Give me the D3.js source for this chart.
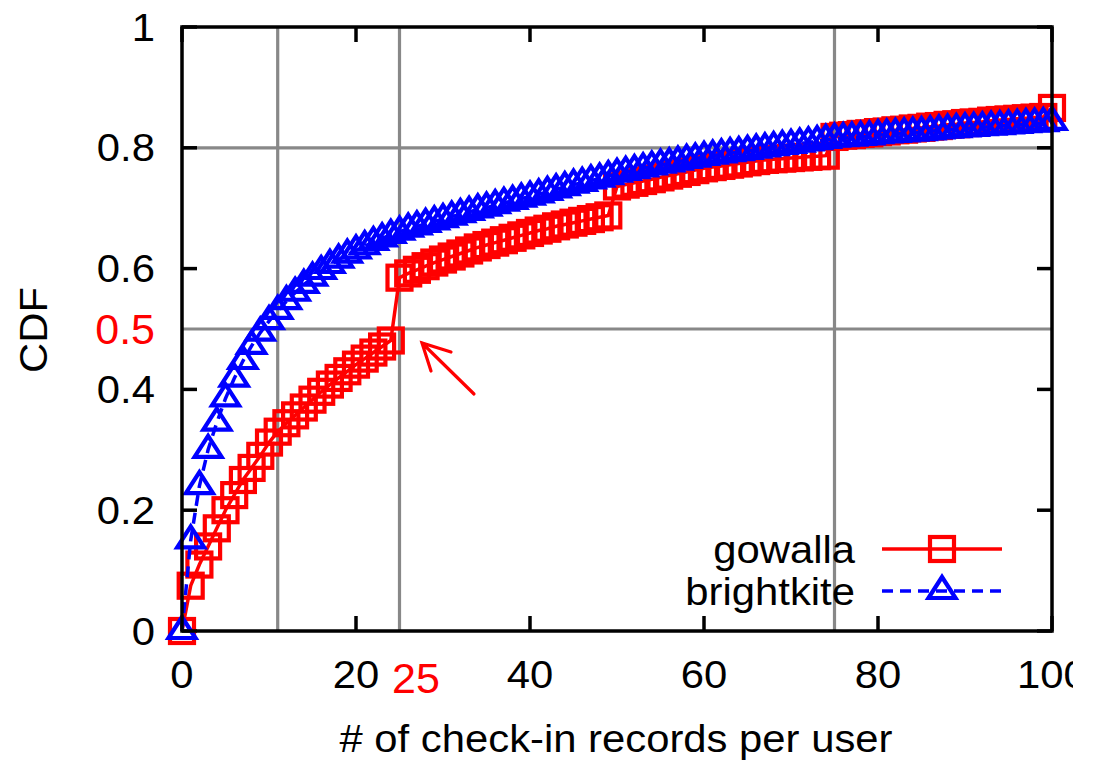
<!DOCTYPE html>
<html>
<head>
<meta charset="utf-8">
<script src="https://cdn.jsdelivr.net/npm/d3@7"></script>
<style>
  body { margin: 0; background: #fff; }
  svg { display: block; overflow: hidden; }
  text { font-family: "Liberation Sans", Arial, sans-serif; }
</style>
</head>
<body>
<div id="chart"></div>
<script>
// x = number of check-in records per user, one point per integer
var recordCounts = d3.range(0, 101);

// gowalla CDF (jumps at 25, 50, 75, 100)
var gowallaCdf = [
  0, 0.075, 0.11, 0.14, 0.17, 0.2, 0.225, 0.25, 0.27, 0.29,
  0.312, 0.33, 0.344, 0.357, 0.37, 0.383, 0.396, 0.408, 0.419, 0.43,
  0.441, 0.451, 0.461, 0.471, 0.481,
  0.585, 0.592, 0.598, 0.604, 0.61, 0.615, 0.62, 0.625, 0.63, 0.635,
  0.639, 0.643, 0.647, 0.651, 0.655, 0.659, 0.663, 0.666, 0.67, 0.673,
  0.676, 0.679, 0.682, 0.685, 0.688,
  0.736, 0.739, 0.742, 0.745, 0.748, 0.751, 0.754, 0.757, 0.76, 0.763,
  0.766, 0.768, 0.77, 0.772, 0.774, 0.776, 0.778, 0.78, 0.781, 0.782,
  0.783, 0.784, 0.785, 0.786, 0.787,
  0.818, 0.82, 0.821, 0.823, 0.824, 0.826, 0.827, 0.829, 0.83, 0.832,
  0.833, 0.835, 0.836, 0.838, 0.839, 0.841, 0.842, 0.843, 0.845, 0.846,
  0.847, 0.848, 0.849, 0.85, 0.851,
  0.866
];

// brightkite CDF
var brightkiteCdf = [
  0, 0.15, 0.24, 0.3, 0.345, 0.385, 0.418, 0.447, 0.472, 0.494,
  0.513, 0.53, 0.546, 0.56, 0.573, 0.585, 0.596, 0.606, 0.615, 0.623,
  0.63, 0.637, 0.644, 0.65, 0.656, 0.661, 0.666, 0.67, 0.674, 0.678,
  0.682, 0.686, 0.69, 0.694, 0.698, 0.701, 0.705, 0.709, 0.712, 0.716,
  0.719, 0.723, 0.727, 0.731, 0.735, 0.739, 0.742, 0.746, 0.749, 0.753,
  0.757, 0.76, 0.763, 0.766, 0.769, 0.772, 0.774, 0.777, 0.78, 0.782,
  0.785, 0.787, 0.789, 0.791, 0.793, 0.795, 0.797, 0.799, 0.801, 0.803,
  0.805, 0.807, 0.809, 0.811, 0.813, 0.815, 0.816, 0.817, 0.818, 0.819,
  0.821, 0.822, 0.823, 0.824, 0.825, 0.826, 0.827, 0.829, 0.83, 0.831,
  0.832, 0.833, 0.834, 0.835, 0.836, 0.837, 0.838, 0.839, 0.84, 0.841,
  0.843
];

var xTicks = [0, 20, 40, 60, 80, 100];
var yTicks = [0, 0.2, 0.4, 0.6, 0.8, 1];
var xGrid = [11, 25, 75];
var yGrid = [0.5, 0.8];

// the source picture is cropped just past the plot, cutting "100"
var width = 1073, height = 762;
var plotL = 182, plotR = 1052, plotT = 27, plotB = 631;
var fontPx = 38;

var svg = d3.select("#chart").append("svg")
    .attr("width", width)
    .attr("height", height);

var x = d3.scaleLinear().domain([0, 100]).range([plotL, plotR]);
var y = d3.scaleLinear().domain([0, 1]).range([plotB, plotT]);

// grid lines
svg.selectAll("line.xgrid").data(xGrid)
  .enter().append("line")
    .attr("x1", function(d) { return x(d); })
    .attr("x2", function(d) { return x(d); })
    .attr("y1", plotT).attr("y2", plotB)
    .attr("stroke", "#888").attr("stroke-width", 3.2);
svg.selectAll("line.ygrid").data(yGrid)
  .enter().append("line")
    .attr("x1", plotL).attr("x2", plotR)
    .attr("y1", function(d) { return y(d); })
    .attr("y2", function(d) { return y(d); })
    .attr("stroke", "#888").attr("stroke-width", 3.2);

// inner ticks on all four sides
var tickLen = 15;
var ticks = svg.append("g").attr("stroke", "#000").attr("stroke-width", 3.5);
xTicks.forEach(function(t) {
  ticks.append("line").attr("x1", x(t)).attr("x2", x(t))
    .attr("y1", plotB).attr("y2", plotB - tickLen);
  ticks.append("line").attr("x1", x(t)).attr("x2", x(t))
    .attr("y1", plotT).attr("y2", plotT + tickLen);
});
yTicks.forEach(function(t) {
  ticks.append("line").attr("x1", plotL).attr("x2", plotL + tickLen)
    .attr("y1", y(t)).attr("y2", y(t));
  ticks.append("line").attr("x1", plotR).attr("x2", plotR - tickLen)
    .attr("y1", y(t)).attr("y2", y(t));
});

// tick labels
svg.selectAll("text.xt").data(xTicks)
  .enter().append("text")
    .attr("class", "wide")
    .attr("x", function(d) { return x(d); })
    .attr("y", 688)
    .attr("text-anchor", "middle")
    .attr("font-size", fontPx)
    .text(function(d) { return d; });
svg.selectAll("text.yt").data(yTicks)
  .enter().append("text")
    .attr("class", "wide")
    .attr("x", 155)
    .attr("y", function(d) { return y(d); })
    .attr("dy", "0.36em")
    .attr("text-anchor", "end")
    .attr("font-size", fontPx)
    .text(function(d) { return d; });

// axis titles
svg.append("text")
    .attr("class", "wide")
    .attr("x", 616)
    .attr("y", 752)
    .attr("text-anchor", "middle")
    .attr("font-size", fontPx)
    .text("# of check-in records per user");
svg.append("text")
    .attr("class", "wide")
    .attr("transform", "translate(47,330) rotate(-90)")
    .attr("text-anchor", "middle")
    .attr("font-size", fontPx)
    .text("CDF");

// series
var pts = function(vals) {
  return vals.map(function(v, i) { return [recordCounts[i], v]; });
};
var line = d3.line()
    .x(function(d) { return x(d[0]); })
    .y(function(d) { return y(d[1]); });

var sq = 24;
var markStroke = 4.2;
var triPath = "M0,-14L13.5,7L-13.5,7Z";

svg.append("path").datum(pts(gowallaCdf))
    .attr("d", line)
    .attr("fill", "none").attr("stroke", "#ff0000").attr("stroke-width", 3.5);
svg.selectAll("rect.gw").data(pts(gowallaCdf))
  .enter().append("rect")
    .attr("x", function(d) { return x(d[0]) - sq / 2; })
    .attr("y", function(d) { return y(d[1]) - sq / 2; })
    .attr("width", sq).attr("height", sq)
    .attr("fill", "none").attr("stroke", "#ff0000").attr("stroke-width", markStroke);

svg.append("path").datum(pts(brightkiteCdf))
    .attr("d", line)
    .attr("fill", "none").attr("stroke", "#0000ff").attr("stroke-width", 3.5)
    .attr("stroke-dasharray", "11,7");
svg.selectAll("path.bk").data(pts(brightkiteCdf))
  .enter().append("path")
    .attr("d", triPath)
    .attr("transform", function(d) { return "translate(" + x(d[0]) + "," + y(d[1]) + ")"; })
    .attr("fill", "none").attr("stroke", "#0000ff").attr("stroke-width", markStroke);

// frame
svg.append("rect")
    .attr("x", plotL).attr("y", plotT)
    .attr("width", plotR - plotL).attr("height", plotB - plotT)
    .attr("fill", "none").attr("stroke", "#000").attr("stroke-width", 3.5);

// legend
var legend = svg.append("g");
legend.append("text").attr("class", "wide").attr("x", 855).attr("y", 563)
    .attr("text-anchor", "end").attr("font-size", fontPx).text("gowalla");
legend.append("text").attr("class", "wide").attr("x", 855).attr("y", 605)
    .attr("text-anchor", "end").attr("font-size", fontPx).text("brightkite");
legend.append("line").attr("x1", 882).attr("x2", 1002).attr("y1", 549).attr("y2", 549)
    .attr("stroke", "#ff0000").attr("stroke-width", 3.5);
legend.append("rect").attr("x", 942 - sq / 2).attr("y", 549 - sq / 2)
    .attr("width", sq).attr("height", sq)
    .attr("fill", "none").attr("stroke", "#ff0000").attr("stroke-width", markStroke);
legend.append("line").attr("x1", 882).attr("x2", 1002).attr("y1", 591).attr("y2", 591)
    .attr("stroke", "#0000ff").attr("stroke-width", 3.5).attr("stroke-dasharray", "11,7");
legend.append("path").attr("d", triPath)
    .attr("transform", "translate(942,591)")
    .attr("fill", "none").attr("stroke", "#0000ff").attr("stroke-width", markStroke);

// the original text is stretched sideways a little
svg.selectAll("text.wide").each(function() {
  var w = this.getComputedTextLength();
  d3.select(this).attr("textLength", w * 1.1).attr("lengthAdjust", "spacingAndGlyphs");
});

// red annotations
svg.append("text").attr("x", 155).attr("y", 329).attr("dy", "0.36em")
    .attr("text-anchor", "end").attr("font-size", 43)
    .attr("font-family", "'Open Sans', sans-serif")
    .attr("fill", "#ff0000").text("0.5");
svg.append("text").attr("x", 416).attr("y", 693)
    .attr("text-anchor", "middle").attr("font-size", 43)
    .attr("font-family", "'Open Sans', sans-serif")
    .attr("fill", "#ff0000").text("25");
svg.append("path")
    .attr("d", "M474,394L422,343M451,352L422,343L431,371")
    .attr("fill", "none").attr("stroke", "#ff0000").attr("stroke-width", 3.2)
    .attr("stroke-linecap", "round");
</script>
</body>
</html>
